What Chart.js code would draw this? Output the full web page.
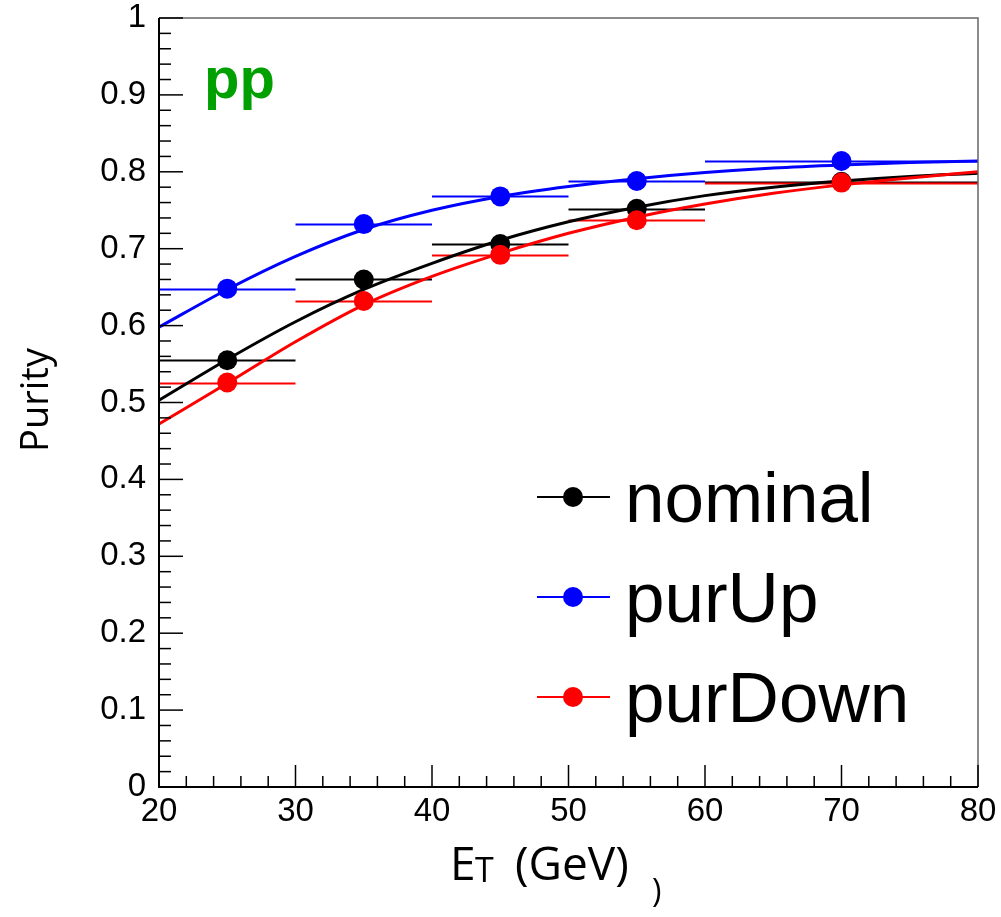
<!DOCTYPE html>
<html>
<head>
<meta charset="utf-8">
<script src="https://cdn.jsdelivr.net/npm/chart.js@4.4.1/dist/chart.umd.min.js"></script>
<style>
  body { margin: 0; background: #fff; }
  canvas { display: block; }
</style>
</head>
<body>
<canvas id="purityChart" width="1001" height="917"></canvas>
<script>
// bin centres and edges (E_T, GeV)
const binCenters = [25, 35, 45, 55, 70];
const binLow = [20, 30, 40, 50, 60];
const binHigh = [30, 40, 50, 60, 80];

// measured purity per bin
const nominalPts = [0.555, 0.660, 0.706, 0.752, 0.787];
const purUpPts = [0.648, 0.732, 0.768, 0.788, 0.814];
const purDownPts = [0.526, 0.632, 0.692, 0.737, 0.786];

// fit curves
const curveX = [20, 25, 30, 35, 40, 45, 50, 55, 60, 65, 70, 75, 80];
const nominalFit = [0.503, 0.556, 0.605, 0.647, 0.681, 0.711, 0.735, 0.754, 0.769, 0.780, 0.788, 0.794, 0.798];
const purUpFit = [0.598, 0.647, 0.690, 0.725, 0.750, 0.768, 0.781, 0.791, 0.799, 0.805, 0.809, 0.812, 0.814];
const purDownFit = [0.472, 0.525, 0.579, 0.627, 0.664, 0.694, 0.720, 0.741, 0.758, 0.772, 0.783, 0.792, 0.800];

const yTicks = [0, 0.1, 0.2, 0.3, 0.4, 0.5, 0.6, 0.7, 0.8, 0.9, 1];
const xTicks = [20, 30, 40, 50, 60, 70, 80];

const series = [
    { name: 'nominal', color: '#000000', pts: nominalPts, fit: nominalFit },
    { name: 'purUp', color: '#0000ff', pts: purUpPts, fit: purUpFit },
    { name: 'purDown', color: '#ff0000', pts: purDownPts, fit: purDownFit }
];

const toXY = (xs, ys) => xs.map((x, i) => ({ x: x, y: ys[i] }));

const datasets = [];
series.forEach((s, i) => {
    datasets.push({
        label: s.name + ' fit',
        data: toXY(curveX, s.fit),
        borderColor: s.color,
        borderWidth: 3,
        pointRadius: 0,
        fill: false,
        cubicInterpolationMode: 'monotone',
        order: 10 - i
    });
});
series.forEach((s, i) => {
    datasets.push({
        label: s.name,
        data: toXY(binCenters, s.pts),
        showLine: false,
        pointRadius: 10,
        pointHoverRadius: 10,
        pointBackgroundColor: s.color,
        pointBorderColor: s.color,
        pointBorderWidth: 0,
        order: 3 - i
    });
});

const labelFont = '"Liberation Sans", Arial, sans-serif';
const titleFont = '"Open Sans", "Noto Sans", sans-serif';

// horizontal bin-width bars, ROOT style ticks, frame, legend and labels
const rootStyle = {
    id: 'rootStyle',
    beforeDatasetsDraw(chart) {
        const ctx = chart.ctx;
        const xs = chart.scales.x, ys = chart.scales.y;
        ctx.save();
        ctx.lineWidth = 2;
        series.forEach(s => {
            ctx.strokeStyle = s.color;
            s.pts.forEach((v, i) => {
                const py = Math.round(ys.getPixelForValue(v)) + 0.5;
                ctx.beginPath();
                ctx.moveTo(xs.getPixelForValue(binLow[i]), py);
                ctx.lineTo(xs.getPixelForValue(binHigh[i]), py);
                ctx.stroke();
            });
        });
        ctx.restore();
    },
    afterDraw(chart) {
        const ctx = chart.ctx;
        const a = chart.chartArea;
        const xs = chart.scales.x, ys = chart.scales.y;
        ctx.save();

        // frame
        ctx.strokeStyle = '#666';
        ctx.lineWidth = 1.5;
        ctx.beginPath();
        ctx.moveTo(a.left, a.top);
        ctx.lineTo(a.right, a.top);
        ctx.lineTo(a.right, a.bottom);
        ctx.stroke();
        ctx.strokeStyle = '#000';
        ctx.lineWidth = 2;
        ctx.beginPath();
        ctx.moveTo(a.left, a.top);
        ctx.lineTo(a.left, a.bottom);
        ctx.lineTo(a.right, a.bottom);
        ctx.stroke();

        // y ticks: major every 0.1, minor every 0.02
        ctx.lineWidth = 1.5;
        for (let k = 0; k <= 50; k++) {
            const py = ys.getPixelForValue(k / 50);
            const len = k % 5 === 0 ? 24 : 12;
            ctx.beginPath();
            ctx.moveTo(a.left, py);
            ctx.lineTo(a.left + len, py);
            ctx.stroke();
        }
        // x ticks: major every 10, minor every 2
        for (let v = 20; v <= 80; v += 2) {
            const px = xs.getPixelForValue(v);
            const len = v % 10 === 0 ? 22 : 11;
            ctx.beginPath();
            ctx.moveTo(px, a.bottom);
            ctx.lineTo(px, a.bottom - len);
            ctx.stroke();
        }

        // "pp" label
        ctx.fillStyle = '#00a000';
        ctx.font = 'bold 58px ' + labelFont;
        ctx.textAlign = 'left';
        ctx.textBaseline = 'alphabetic';
        ctx.fillText('pp', 204, 98);

        // legend
        series.forEach((s, i) => {
            const cy = 497 + i * 100;
            ctx.strokeStyle = s.color;
            ctx.lineWidth = 2;
            ctx.beginPath();
            ctx.moveTo(537, cy);
            ctx.lineTo(610, cy);
            ctx.stroke();
            ctx.fillStyle = s.color;
            ctx.beginPath();
            ctx.arc(573, cy, 10, 0, Math.PI * 2);
            ctx.fill();
            ctx.fillStyle = '#000';
            ctx.font = '71px ' + labelFont;
            ctx.fillText(s.name, 625, cy + 25);
        });

        // axis titles
        ctx.fillStyle = '#000';
        ctx.font = '38px ' + titleFont;
        ctx.save();
        ctx.translate(48, 400);
        ctx.rotate(-Math.PI / 2);
        ctx.textAlign = 'center';
        ctx.fillText('Purity', 0, 0);
        ctx.restore();

        ctx.textAlign = 'left';
        ctx.font = '46px ' + titleFont;
        ctx.fillText('E', 450, 880);
        ctx.font = '34px ' + titleFont;
        ctx.fillText('T', 475, 882);
        ctx.font = '46px ' + titleFont;
        ctx.fillText('(GeV)', 515, 880);
        ctx.font = '32px ' + titleFont;
        ctx.fillText(')', 652, 902);

        ctx.restore();
    }
};

new Chart(document.getElementById('purityChart'), {
    type: 'line',
    data: { datasets: datasets },
    options: {
        responsive: false,
        animation: false,
        layout: { padding: { left: 0, right: 23, top: 18, bottom: 0 } },
        plugins: {
            legend: { display: false },
            tooltip: { enabled: false }
        },
        scales: {
            x: {
                type: 'linear',
                min: 20,
                max: 80,
                afterFit: s => { s.height = 130; s.paddingLeft = 0; s.paddingRight = 0; },
                afterBuildTicks: s => { s.ticks = xTicks.map(v => ({ value: v })); },
                grid: { display: false, drawTicks: false },
                border: { display: false },
                ticks: {
                    color: '#000',
                    padding: 5,
                    maxRotation: 0,
                    font: { family: labelFont, size: 33 }
                }
            },
            y: {
                type: 'linear',
                min: 0,
                max: 1,
                afterFit: s => { s.width = 159; s.paddingTop = 0; s.paddingBottom = 0; },
                afterBuildTicks: s => { s.ticks = yTicks.map(v => ({ value: v })); },
                grid: { display: false, drawTicks: false },
                border: { display: false },
                ticks: {
                    color: '#000',
                    padding: 13,
                    font: { family: labelFont, size: 33 },
                    callback: v => String(+v.toFixed(1))
                }
            }
        }
    },
    plugins: [rootStyle]
});
</script>
</body>
</html>
